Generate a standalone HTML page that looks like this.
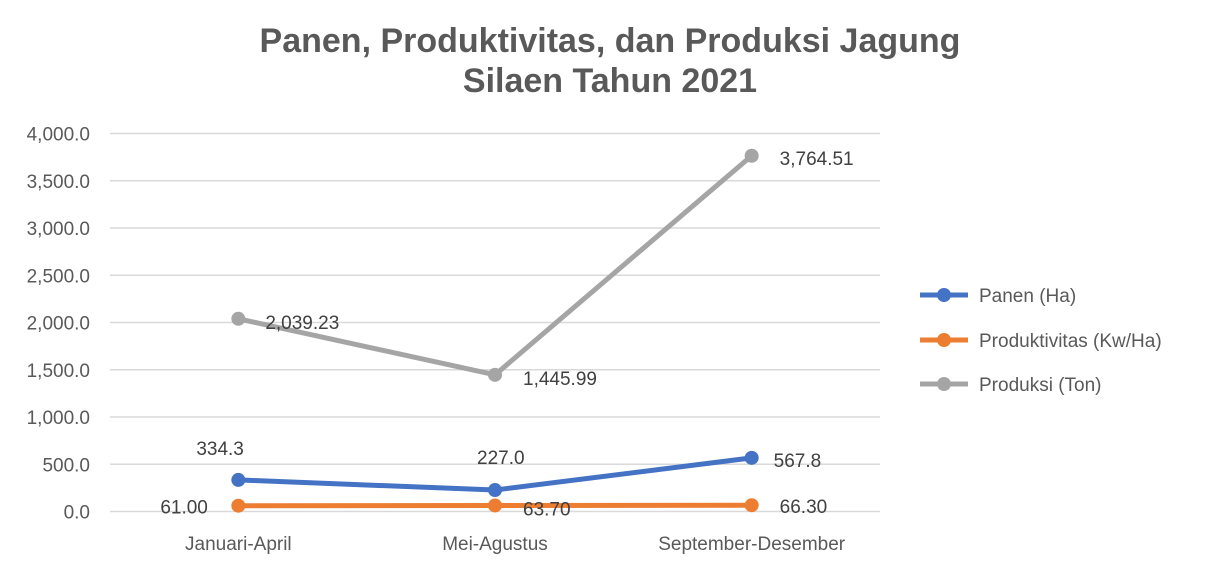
<!DOCTYPE html>
<html><head><meta charset="utf-8"><style>
body{margin:0;background:#fff;}
svg text{font-family:"Liberation Sans",sans-serif;}
</style></head><body>
<svg id="chart" width="1210" height="572" viewBox="0 0 1210 572" xmlns="http://www.w3.org/2000/svg">
<rect width="1210" height="572" fill="#fff"/>
<text x="610" y="52" text-anchor="middle" font-size="34" font-weight="bold" fill="#595959">Panen, Produktivitas, dan Produksi Jagung</text>
<text x="610" y="92" text-anchor="middle" font-size="34" font-weight="bold" fill="#595959">Silaen Tahun 2021</text>
<g id="grid"></g><g id="series"></g><g id="legend"></g>
</svg>
<script>
const categories=["Januari-April","Mei-Agustus","September-Desember"];
const panen=[334.3,227.0,567.8];
const produktivitas=[61.00,63.70,66.30];
const produksi=[2039.23,1445.99,3764.51];
const panenLabels=["334.3","227.0","567.8"];
const produktivitasLabels=["61.00","63.70","66.30"];
const produksiLabels=["2,039.23","1,445.99","3,764.51"];
const yTicks=[0,500,1000,1500,2000,2500,3000,3500,4000];
const yTickLabels=["0.0","500.0","1,000.0","1,500.0","2,000.0","2,500.0","3,000.0","3,500.0","4,000.0"];
const NS="http://www.w3.org/2000/svg";
const x0=110,x1=880,yb=511.5,yt=133.5,ymax=4000;
const xs=i=>x0+(x1-x0)*(i+0.5)/categories.length;
const ys=v=>yb-(yb-yt)*v/ymax;
function mk(tag,attrs,parent,txt){const e=document.createElementNS(NS,tag);for(const k in attrs)e.setAttribute(k,attrs[k]);if(txt!==undefined)e.textContent=txt;parent.appendChild(e);return e;}
const grid=document.getElementById('grid');
yTicks.forEach((t,i)=>{
  const l=mk('line',{x1:x0,x2:x1,y1:ys(t),y2:ys(t),stroke:'#d9d9d9','stroke-width':1.5},grid);
  
  
  const tx=mk('text',{x:90,y:ys(t)+7,'text-anchor':'end','font-size':19,fill:'#595959'},grid,yTickLabels[i]);
  
  
});
categories.forEach((c,i)=>{
  const tx=mk('text',{x:xs(i),y:550,'text-anchor':'middle','font-size':19,fill:'#595959'},grid,c);
  
  
});
const ser=document.getElementById('series');
function drawSeries(vals,labels,color,name,offs){
  const pl=mk('polyline',{points:vals.map((v,i)=>xs(i)+','+ys(v)).join(' '),fill:'none',stroke:color,'stroke-width':5,'stroke-linejoin':'round'},ser);
  
  
  vals.forEach((v,i)=>{
    const c=mk('circle',{cx:xs(i),cy:ys(v),r:7,fill:color},ser);
    
    
    const t=mk('text',{x:xs(i)+offs[i][0],y:ys(v)+offs[i][1],'text-anchor':'start','font-size':19,fill:'#404040'},ser,labels[i]);
    
    
  });
}
drawSeries(produksi,produksiLabels,'#a5a5a5','produksi',[[27,10],[28,10],[28,9]]);
drawSeries(produktivitas,produktivitasLabels,'#ed7d31','produktivitas',[[-78,8],[28,10],[28,8]]);
drawSeries(panen,panenLabels,'#4472c4','panen',[[-42,-25],[-18,-26],[22,9]]);
const lg=document.getElementById('legend');
[["Panen (Ha)",'#4472c4',295],["Produktivitas (Kw/Ha)",'#ed7d31',340],["Produksi (Ton)",'#a5a5a5',384]].forEach(([n,c,y])=>{
  const l=mk('line',{x1:920,x2:968,y1:y,y2:y,stroke:c,'stroke-width':5},lg);
  
  
  const ci=mk('circle',{cx:944,cy:y,r:7,fill:c},lg);
  
  
  const t=mk('text',{x:979,y:y+7,'font-size':19,fill:'#595959'},lg,n);
  
  
});
</script>
</body></html>
